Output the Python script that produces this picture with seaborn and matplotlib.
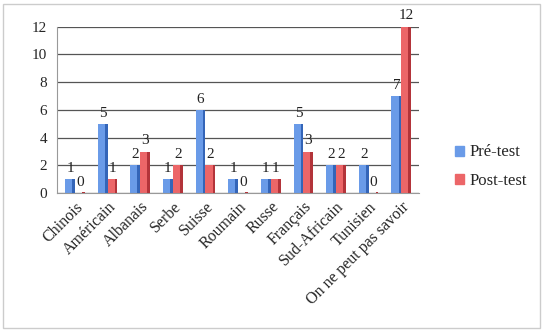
import pandas as pd
import matplotlib
matplotlib.use("Agg")
import matplotlib.pyplot as plt
import seaborn as sns
from matplotlib.patches import Rectangle

categories = ['Chinois', 'Américain', 'Albanais', 'Serbe', 'Suisse', 'Roumain',
              'Russe', 'Français', 'Sud-Africain', 'Tunisien', 'On ne peut pas savoir']
pre_test = [1, 5, 2, 1, 6, 1, 1, 5, 2, 2, 7]
post_test = [0, 1, 3, 2, 2, 0, 1, 3, 2, 0, 12]
series_names = ['Pré-test', 'Post-test']
y_ticks = [0, 2, 4, 6, 8, 10, 12]

df = pd.DataFrame({
    'cat': categories * 2,
    'val': pre_test + post_test,
    'serie': [series_names[0]] * len(categories) + [series_names[1]] * len(categories),
})

sns.set_style("white")
plt.rcParams['font.family'] = ['Liberation Serif', 'DejaVu Serif']

fig = plt.figure(figsize=(5.43, 3.32), dpi=100)
ax = fig.add_axes([0.105, 0.418, 0.667, 0.502])

palette = {'Pré-test': '#6a9be8', 'Post-test': '#ec6668'}
sns.barplot(data=df, x='cat', y='val', hue='serie', palette=palette,
            width=0.6, ax=ax, edgecolor='none', saturation=1, legend=False)

# darker side faces for a light 3D feel
for cont, dark in zip(ax.containers, ['#3465b8', '#b3343a']):
    for b in cont:
        x, w, h = b.get_x(), b.get_width(), b.get_height()
        ax.add_patch(Rectangle((x + w * 0.72, 0), w * 0.28, max(h, 0.08),
                               color=dark, lw=0, zorder=3))
    ax.bar_label(cont, labels=[f'{int(v)}' for v in cont.datavalues],
                 padding=3, fontsize=11, color='#222222')

ax.set_ylim(0, 12)
ax.set_yticks(y_ticks)
ax.set_xlim(-0.55, len(categories) - 0.45)
ax.yaxis.grid(True, color='#555555', linewidth=0.9)
ax.set_axisbelow(True)
ax.set_xlabel('')
ax.set_ylabel('')
for s in ['top', 'right']:
    ax.spines[s].set_visible(False)
ax.spines['left'].set_color('#999999')
ax.spines['bottom'].set_color('#999999')
ax.tick_params(axis='y', labelsize=11, length=4, color='#999999', pad=3)
ax.tick_params(axis='x', labelsize=11.5, length=0, pad=4)
plt.setp(ax.get_xticklabels(), rotation=45, ha='right', rotation_mode='anchor')

# legend
handles = [Rectangle((0, 0), 1, 1, color=palette[n]) for n in series_names]
fig.legend(handles, series_names, loc='upper left', bbox_to_anchor=(0.81, 0.61),
           frameon=False, fontsize=12, handlelength=0.55, handleheight=0.55,
           handletextpad=0.35, labelspacing=0.75)

# light frame around the chart
fig.patches.append(Rectangle((0.005, 0.012), 0.99, 0.976, transform=fig.transFigure,
                             fill=False, edgecolor='#cccccc', linewidth=1))

fig.savefig('out.png', dpi=100)
